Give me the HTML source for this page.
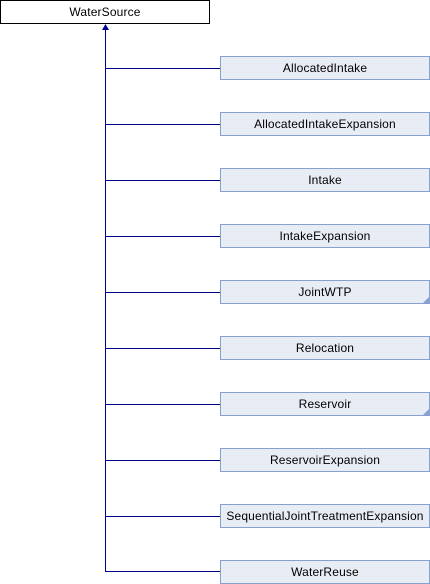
<!DOCTYPE html>
<html><head><style>
body{margin:0;width:430px;height:584px;background:#fff;overflow:hidden;position:relative;font-family:"Liberation Sans",sans-serif;font-size:12px;letter-spacing:0.15px}
.b{position:absolute;box-sizing:border-box;text-align:center;line-height:22px;color:#000}
.c{left:220px;width:210px;height:24px;background:#e8ecf5;border:1px solid #86a0cf}
</style></head><body>
<div class="b" style="left:0;top:0;width:210px;height:24px;border:1px solid #000;background:#fff">WaterSource</div>
<svg width="430" height="584" style="position:absolute;left:0;top:0">
<g stroke="#00008b" stroke-width="1" fill="none">
<line x1="105.5" y1="28" x2="105.5" y2="572"/>
<line x1="105" y1="68.5" x2="220" y2="68.5"/>
<line x1="105" y1="124.5" x2="220" y2="124.5"/>
<line x1="105" y1="180.5" x2="220" y2="180.5"/>
<line x1="105" y1="236.5" x2="220" y2="236.5"/>
<line x1="105" y1="292.5" x2="220" y2="292.5"/>
<line x1="105" y1="348.5" x2="220" y2="348.5"/>
<line x1="105" y1="404.5" x2="220" y2="404.5"/>
<line x1="105" y1="460.5" x2="220" y2="460.5"/>
<line x1="105" y1="516.5" x2="220" y2="516.5"/>
<line x1="105" y1="571.5" x2="220" y2="571.5"/>
</g>
<polygon points="105.5,24 102,30 109,30" fill="#00008b"/>
</svg>
<div class="b c" style="top:56px">AllocatedIntake</div>
<div class="b c" style="top:112px">AllocatedIntakeExpansion</div>
<div class="b c" style="top:168px">Intake</div>
<div class="b c" style="top:224px">IntakeExpansion</div>
<div class="b c" style="top:280px">JointWTP</div>
<div class="b c" style="top:336px">Relocation</div>
<div class="b c" style="top:392px">Reservoir</div>
<div class="b c" style="top:448px">ReservoirExpansion</div>
<div class="b c" style="top:504px">SequentialJointTreatmentExpansion</div>
<div class="b c" style="top:560px">WaterReuse</div>
<svg width="430" height="584" style="position:absolute;left:0;top:0">
<polygon points="429,297 429,303 423,303" fill="#86a0cf"/>
<polygon points="429,409 429,415 423,415" fill="#86a0cf"/>
</svg>
</body></html>
